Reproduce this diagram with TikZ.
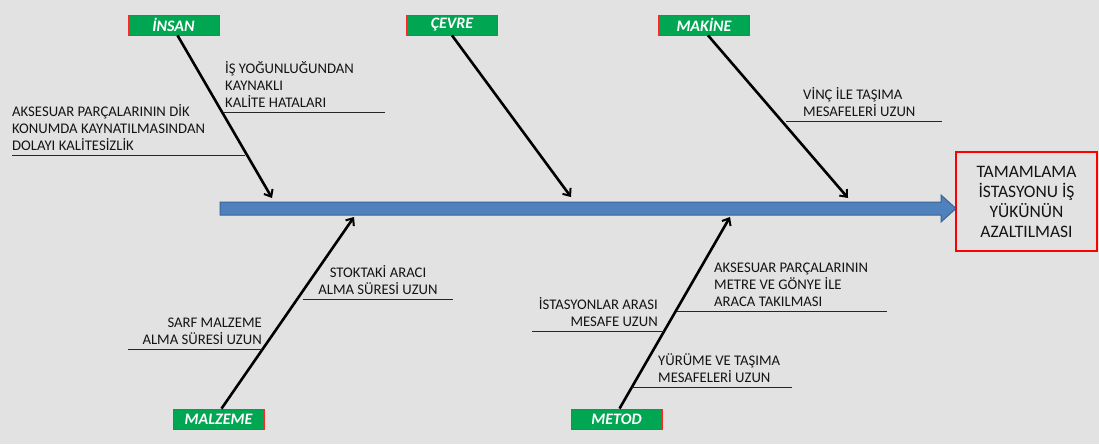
\documentclass[tikz,border=0pt]{standalone}
\usepackage{fontspec}
\setmainfont{Carlito}
\usetikzlibrary{arrows.meta,calc}
\definecolor{bg}{HTML}{E2E2E2}
\definecolor{catgreen}{HTML}{00A651}
\definecolor{spinefill}{HTML}{4F81BD}
\definecolor{spineline}{HTML}{3A6494}
\definecolor{txt}{HTML}{141414}

\begin{document}
\begin{tikzpicture}[x=1pt,y=-1pt,
  cat/.style={draw=red!85, line width=0.8pt, fill=catgreen, text=white,
    font=\bfseries\itshape\fontsize{16}{18}\selectfont,
    minimum width=91pt, minimum height=20pt, inner sep=0pt},
  bone/.style={line width=2.6pt, black,
    -{Straight Barb[length=6pt,width=10pt,line width=2pt]}},
  cause/.style={text=txt, font=\fontsize{14.7}{17}\selectfont, inner sep=0pt},
  uline/.style={line width=1pt, black!85}
]
% canvas
\path[fill=bg] (0,0) rectangle (1099,444);

% main spine arrow
\fill[spinefill, draw=spineline, line width=1pt]
  (220,202) -- (941,202) -- (941,195) -- (956,208.5) -- (941,222)
  -- (941,215) -- (220,215) -- cycle;

% effect box
\node[draw=red, line width=1.2pt, minimum width=141pt, minimum height=99pt,
  align=center, font=\fontsize{17.5}{20}\selectfont, text=txt]
  (effect) at (1026.5,201.5) {TAMAMLAMA\\İSTASYONU İŞ\\YÜKÜNÜN\\AZALTILMASI};

% category boxes
\node[cat] (insan)   at (173.5,25) {İNSAN};
\node[cat] (cevre)   at (452,25)   {ÇEVRE};
\node[cat] (makine)  at (704,25)   {MAKİNE};
\node[cat] (malzeme) at (218.5,419) {MALZEME};
\node[cat] (metod)   at (616.5,419) {METOD};

% points where the bones meet the spine
\coordinate (pInsan)   at (272,198);
\coordinate (pCevre)   at (571,197);
\coordinate (pMakine)  at (848,198);
\coordinate (pMalzeme) at (354,217);
\coordinate (pMetod)   at (730,217);

% bones
\draw[bone] ([xshift=4pt]insan.south)   -- (pInsan);
\draw[bone] (cevre.south)               -- (pCevre);
\draw[bone] ([xshift=4pt]makine.south)  -- (pMakine);
\draw[bone] ([xshift=3pt]malzeme.north) -- (pMalzeme);
\draw[bone] ([xshift=3pt]metod.north)   -- (pMetod);

% causes: İNSAN
\node[cause, anchor=south west, align=left] (c1) at (225,108)
  {İŞ YOĞUNLUĞUNDAN\\KAYNAKLI\\KALİTE HATALARI};
\coordinate (u1a) at (224,112); \coordinate (u1b) at (385,112);
\draw[uline] (u1a) -- (u1b);

\node[cause, anchor=south west, align=left] (c2) at (12,150.5)
  {AKSESUAR PARÇALARININ DİK\\KONUMDA KAYNATILMASINDAN\\DOLAYI KALİTESİZLİK};
\coordinate (u2a) at (12,155); \coordinate (u2b) at (245,155);
\draw[uline] (u2a) -- (u2b);

% causes: MAKİNE
\node[cause, anchor=south west, align=left] (c3) at (803,117)
  {VİNÇ İLE TAŞIMA\\MESAFELERİ UZUN};
\coordinate (u3a) at (786,121); \coordinate (u3b) at (942,121);
\draw[uline] (u3a) -- (u3b);

% causes: MALZEME
\node[cause, anchor=south, align=center] (c4) at (378,295)
  {STOKTAKİ ARACI\\ALMA SÜRESİ UZUN};
\coordinate (u4a) at (303,299); \coordinate (u4b) at (453,299);
\draw[uline] (u4a) -- (u4b);

\node[cause, anchor=south east, align=right] (c5) at (262,345)
  {SARF MALZEME\\ALMA SÜRESİ UZUN};
\coordinate (u5a) at (128,349); \coordinate (u5b) at (262,349);
\draw[uline] (u5a) -- (u5b);

% causes: METOD
\node[cause, anchor=south west, align=left] (c6) at (714,307)
  {AKSESUAR PARÇALARININ\\METRE VE GÖNYE İLE\\ARACA TAKILMASI};
\coordinate (u6a) at (677,311); \coordinate (u6b) at (887,311);
\draw[uline] (u6a) -- (u6b);

\node[cause, anchor=south east, align=right] (c7) at (658,327)
  {İSTASYONLAR ARASI\\MESAFE UZUN};
\coordinate (u7a) at (532,331); \coordinate (u7b) at (664,331);
\draw[uline] (u7a) -- (u7b);

\node[cause, anchor=south west, align=left] (c8) at (658,383)
  {YÜRÜME VE TAŞIMA\\MESAFELERİ UZUN};
\coordinate (u8a) at (632,387); \coordinate (u8b) at (792,387);
\draw[uline] (u8a) -- (u8b);
\end{tikzpicture}
\end{document}
